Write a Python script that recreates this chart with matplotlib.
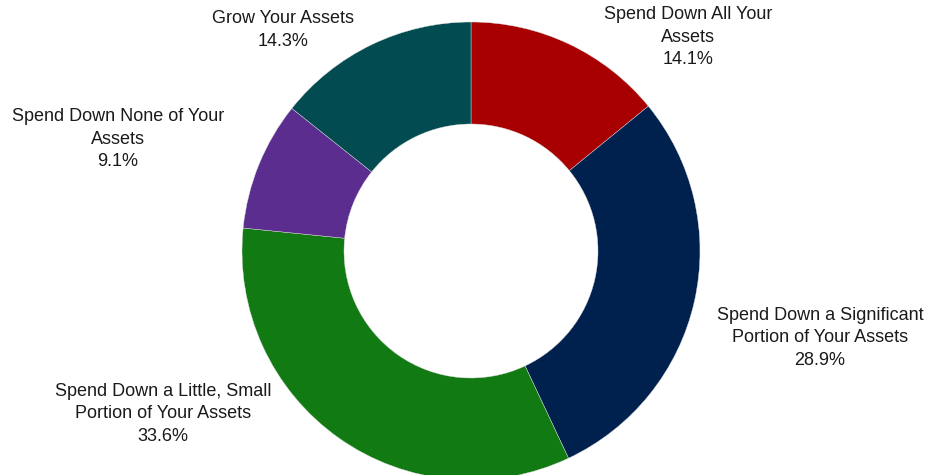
import matplotlib.pyplot as plt

plt.rcParams['font.family'] = ['Liberation Sans', 'DejaVu Sans']

labels = ['Spend Down All Your\nAssets',
          'Spend Down a Significant\nPortion of Your Assets',
          'Spend Down a Little, Small\nPortion of Your Assets',
          'Spend Down None of Your\nAssets',
          'Grow Your Assets']
shares = [14.1, 28.9, 33.6, 9.1, 14.3]
colors = ['#A80000', '#00204E', '#127A12', '#5B2D8E', '#024B51']

# label centres in pixels (x, y from top)
label_pos = [(688, 37), (820, 338), (163, 414), (118, 139), (283, 30)]

W, H = 930, 475
fig = plt.figure(figsize=(W / 100, H / 100), dpi=100)
ax = fig.add_axes([0, 0, 1, 1])

cx, cy, R = 471, H - 251, 229
ax.pie(shares, colors=colors, startangle=90, counterclock=False,
       center=(cx, cy), radius=R,
       wedgeprops=dict(width=R - 127, edgecolor='#dddddd', linewidth=0.3))

for lab, val, (x, y) in zip(labels, shares, label_pos):
    ax.text(x, H - y, f'{lab}\n{val:.1f}%', ha='center', va='center',
            fontsize=13, color='#1a1a1a', linespacing=1.42)

ax.set_xlim(0, W)
ax.set_ylim(0, H)
ax.set_aspect('equal')
ax.axis('off')

fig.savefig('out.png', dpi=100, facecolor='white')
